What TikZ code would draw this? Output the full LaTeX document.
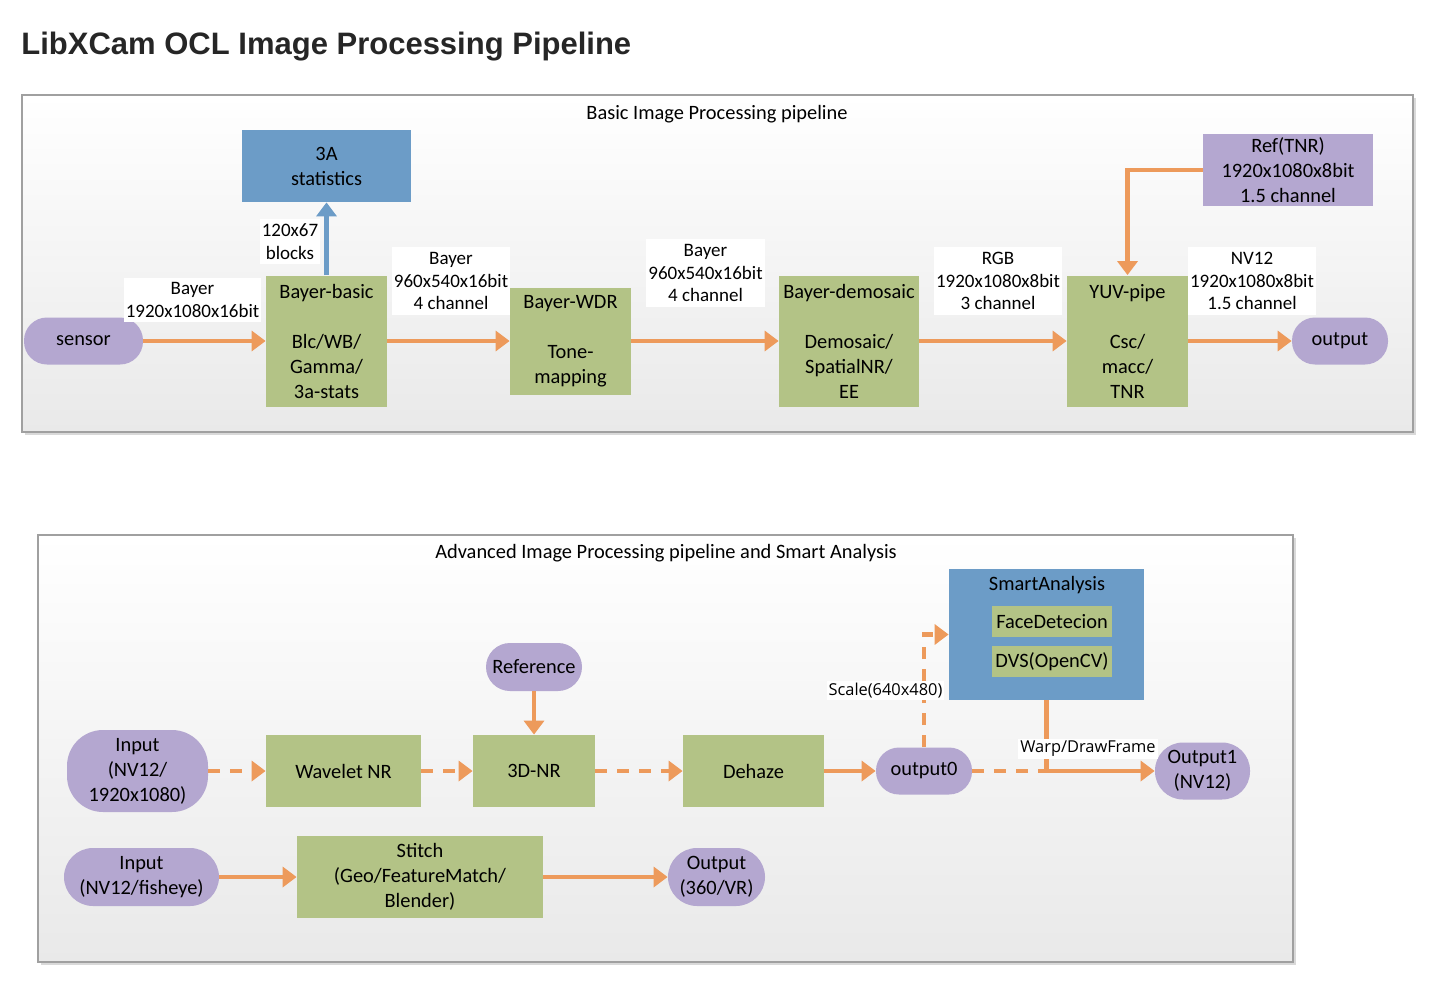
\documentclass[tikz,border=0pt]{standalone}
\usepackage{fontspec}
\setmainfont{Carlito}
\newfontfamily\tagfont{Open Sans}
\newfontfamily\headfont{Liberation Sans}
\usetikzlibrary{arrows.meta}

\definecolor{stagegreen}{RGB}{179,195,134}
\definecolor{termpurple}{RGB}{180,167,208}
\definecolor{statblue}{RGB}{108,156,199}
\definecolor{flowcolor}{RGB}{237,154,91}
\definecolor{panelgray}{RGB}{233,233,233}
\definecolor{panelline}{RGB}{160,160,160}

\tikzset{
  stage/.style={fill=stagegreen, align=center, inner sep=0pt},
  store/.style={fill=termpurple, align=center, inner sep=0pt},
  pill/.style={store, rounded corners=#1},
  stat/.style={fill=statblue, align=center, inner sep=0pt},
  datalabel/.style={fill=white, align=center, inner xsep=1pt, inner ysep=2.5pt,
    font=\fontsize{9.5}{11.3}\selectfont},
  tag/.style={fill=white, inner sep=1pt, font=\tagfont\fontsize{8.2}{10}\selectfont},
  flow/.style={draw=flowcolor, line width=2.2pt, -{Triangle[length=7pt,width=10pt]}},
  dashflow/.style={flow, dash pattern=on 6pt off 5pt},
  statflow/.style={flow, draw=statblue},
}

\begin{document}
\begin{tikzpicture}[x=0.5pt, y=-0.5pt, font=\fontsize{10.2}{12.5}\selectfont]
        \useasboundingbox (0,0) rectangle (1438,1000);
        \node[anchor=base west, inner sep=0pt, text=black!85,
              font=\headfont\bfseries\fontsize{15.5}{18}\selectfont] (title) at (21,55)
              {LibXCam OCL Image Processing Pipeline};
        % basic pipeline panel
        \fill[black!15] (25,98) rectangle (1416,435);
        \shadedraw[top color=white, bottom color=panelgray, draw=panelline, line width=0.8pt]
              (22,95) rectangle (1413,432);
        \node (basictitle) at (717,114) {Basic Image Processing pipeline};
        \node[stat, minimum width=84.5pt, minimum height=36pt] (stats) at (326.5,166) {3A\\statistics};
        \node[pill=11.5pt, minimum width=59.5pt, minimum height=23.5pt] (sensor) at (83.5,341) {sensor};
        \node[stage, minimum width=60.5pt, minimum height=65.5pt] (bayerbasic) at (326.5,341)
              {Bayer-basic\\[12.5pt]Blc/WB/\\Gamma/\\3a-stats};
        \node[stage, minimum width=60.5pt, minimum height=53.5pt] (bayerwdr) at (570.5,341)
              {Bayer-WDR\\[12.5pt]Tone-\\mapping};
        \node[stage, minimum width=70pt, minimum height=65.5pt] (demosaic) at (849,341)
              {Bayer-demosaic\\[12.5pt]Demosaic/\\SpatialNR/\\EE};
        \node[stage, minimum width=60.5pt, minimum height=65.5pt] (yuvpipe) at (1127.5,341)
              {YUV-pipe\\[12.5pt]Csc/\\macc/\\TNR};
        \node[pill=11.5pt, minimum width=48pt, minimum height=23.5pt] (output) at (1340,341) {output};
        \node[store, minimum width=85pt, minimum height=36pt] (reftnr) at (1288,170)
              {Ref(TNR)\\1920x1080x8bit\\1.5 channel};
        % basic flow
        \draw[flow] (sensor) -- (bayerbasic);
        \draw[flow] (bayerbasic) -- (bayerwdr);
        \draw[flow] (bayerwdr) -- (demosaic);
        \draw[flow] (demosaic) -- (yuvpipe);
        \draw[flow] (yuvpipe) -- (output);
        \draw[flow] (reftnr.west) -| (yuvpipe.north);
        \draw[statflow] (bayerbasic.north) -- (stats.south);
        \node[datalabel] (lbsensor) at (192.5,300) {Bayer\\1920x1080x16bit};
        \node[datalabel] (lbbasic) at (451,281) {Bayer\\960x540x16bit\\4 channel};
        \node[datalabel] (lbwdr) at (705.5,273) {Bayer\\960x540x16bit\\4 channel};
        \node[datalabel] (lbdemosaic) at (998,281) {RGB\\1920x1080x8bit\\3 channel};
        \node[datalabel] (lbyuv) at (1252,281) {NV12\\1920x1080x8bit\\1.5 channel};
        \node[datalabel] (lbstats) at (290,241.5) {120x67\\blocks};
        % advanced pipeline panel
        \fill[black!15] (41,538) rectangle (1296,965);
        \shadedraw[top color=white, bottom color=panelgray, draw=panelline, line width=0.8pt]
              (38,535) rectangle (1293,962);
        \node (advtitle) at (666,553) {Advanced Image Processing pipeline and Smart Analysis};
        \node[pill=18pt, minimum width=70.5pt, minimum height=41pt] (input) at (137.5,771)
              {Input\\(NV12/\\1920x1080)};
        \node[stage, minimum width=77.5pt, minimum height=36pt] (wavelet) at (343.5,771) {Wavelet NR};
        \node[stage, minimum width=61pt, minimum height=36pt] (tdnr) at (534,771) {3D-NR};
        \node[pill=12pt, minimum width=48pt, minimum height=24pt] (reference) at (534,667) {Reference};
        \node[stage, minimum width=70.5pt, minimum height=36pt] (dehaze) at (753.5,771) {Dehaze};
        \node[pill=11.5pt, minimum width=48pt, minimum height=23.5pt] (outzero) at (924,771) {output0};
        \node[stat, minimum width=97.5pt, minimum height=65.5pt] (smart) at (1046.5,634.5) {};
        \node[inner sep=0pt] (smarttitle) at (1047,585) {SmartAnalysis};
        \node[stage, minimum width=60pt, minimum height=15.5pt] (face) at (1052,621.5) {FaceDetecion};
        \node[stage, minimum width=60pt, minimum height=15.5pt] (dvs) at (1052,661.5) {DVS(OpenCV)};
        \node[pill=14pt, minimum width=47.5pt, minimum height=28.5pt] (outone) at (1202.5,771)
              {Output1\\(NV12)};
        \node[pill=14.5pt, minimum width=77.5pt, minimum height=29pt] (fisheye) at (141.5,877)
              {Input\\(NV12/fisheye)};
        \node[stage, minimum width=123pt, minimum height=41pt] (stitch) at (420,877)
              {Stitch\\(Geo/FeatureMatch/\\Blender)};
        \node[pill=14.5pt, minimum width=48.5pt, minimum height=29pt] (outvr) at (716.5,877)
              {Output\\(360/VR)};
        % advanced flow
        \draw[dashflow] (input) -- (wavelet);
        \draw[dashflow] (wavelet) -- (tdnr);
        \draw[flow] (reference) -- (tdnr);
        \draw[dashflow] (tdnr) -- (dehaze);
        \draw[flow] (dehaze) -- (outzero);
        \draw[dashflow] (outzero.north) |- (smart.west);
        \draw[dashflow, -] (outzero.east) -- (outzero.east -| smart.south);
        \draw[flow] (smart.south) |- (outone.west);
        \draw[flow] (fisheye) -- (stitch);
        \draw[flow] (stitch) -- (outvr);
        \node[tag] (lbscale) at (885.5,690.5) {Scale(640x480)};
        \node[tag] (lbwarp) at (1088,749) {Warp/DrawFrame};
\end{tikzpicture}
\end{document}
